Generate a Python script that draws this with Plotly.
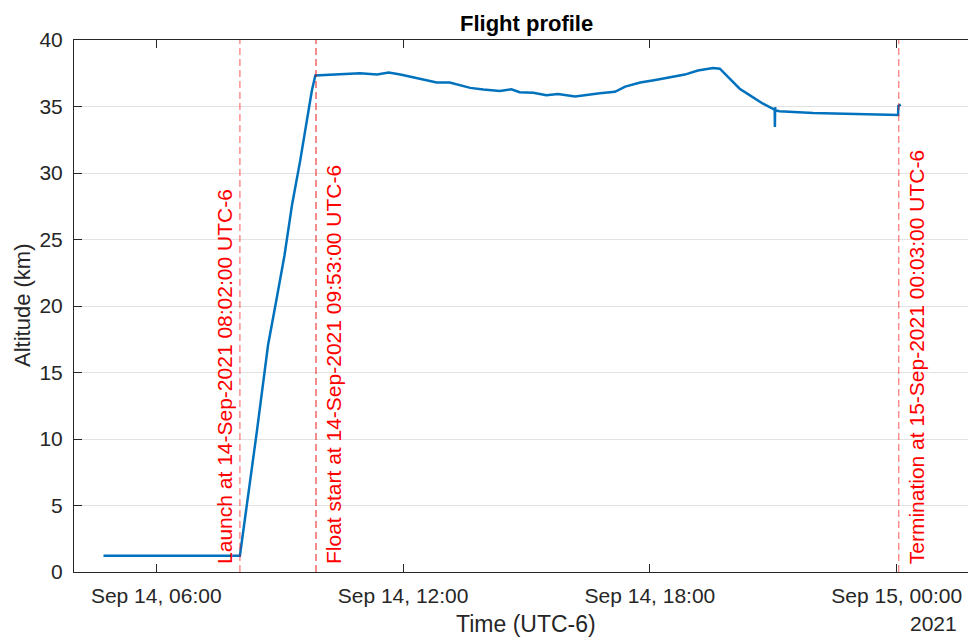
import plotly.graph_objects as go

# ---- data ----
times = [
    "2021-09-14 04:43", "2021-09-14 08:02", "2021-09-14 08:27", "2021-09-14 08:43",
    "2021-09-14 08:55", "2021-09-14 09:07", "2021-09-14 09:18", "2021-09-14 09:30",
    "2021-09-14 09:45", "2021-09-14 09:47", "2021-09-14 09:52", "2021-09-14 10:18",
    "2021-09-14 10:57", "2021-09-14 11:22", "2021-09-14 11:39", "2021-09-14 11:56",
    "2021-09-14 12:15", "2021-09-14 12:35", "2021-09-14 12:49", "2021-09-14 13:08",
    "2021-09-14 13:23", "2021-09-14 13:38", "2021-09-14 13:57", "2021-09-14 14:21",
    "2021-09-14 14:38", "2021-09-14 14:50", "2021-09-14 15:10", "2021-09-14 15:29",
    "2021-09-14 15:46", "2021-09-14 16:11", "2021-09-14 16:47", "2021-09-14 17:09",
    "2021-09-14 17:24", "2021-09-14 17:46", "2021-09-14 18:08", "2021-09-14 18:29",
    "2021-09-14 18:51", "2021-09-14 19:10", "2021-09-14 19:32", "2021-09-14 19:42",
    "2021-09-14 19:57", "2021-09-14 20:11", "2021-09-14 20:26", "2021-09-14 20:45",
    "2021-09-14 21:02:00", "2021-09-14 21:02:20", "2021-09-14 21:02:40", "2021-09-14 21:03:10",
    "2021-09-14 21:09", "2021-09-14 21:58", "2021-09-14 22:47", "2021-09-14 23:58",
    "2021-09-15 00:02:00", "2021-09-15 00:02:30", "2021-09-15 00:06",
]
altitude_km = [
    1.22, 1.22, 10.67, 17.05,
    20.4, 23.8, 27.6, 30.95,
    35.6, 36.2, 37.34, 37.40,
    37.50, 37.40, 37.56, 37.40,
    37.20, 37.00, 36.80, 36.80,
    36.60, 36.40, 36.27, 36.16,
    36.29, 36.08, 36.04, 35.84,
    35.94, 35.75, 36.00, 36.10,
    36.50, 36.80, 37.00, 37.20,
    37.40, 37.70, 37.90, 37.84,
    37.09, 36.34, 35.84, 35.21,
    34.76, 33.46, 34.95, 34.70,
    34.64, 34.51, 34.43, 34.36,
    34.36, 35.05, 35.14,
]

event_times = ["2021-09-14 08:02:00", "2021-09-14 09:53:00", "2021-09-15 00:03:00"]
event_labels = [
    "Launch at 14-Sep-2021 08:02:00 UTC-6",
    "Float start at 14-Sep-2021 09:53:00 UTC-6",
    "Termination at 15-Sep-2021 00:03:00 UTC-6",
]
event_side = ["right", "left", "left"]
event_colors = ["rgba(255,0,0,0.55)", "rgba(230,0,0,0.75)", "rgba(255,0,0,0.55)"]

tick_vals = ["2021-09-14 06:00", "2021-09-14 12:00", "2021-09-14 18:00", "2021-09-15 00:00"]
tick_text = ["Sep 14, 06:00", "Sep 14, 12:00", "Sep 14, 18:00", "Sep 15, 00:00"]
x_range = ["2021-09-14 04:00", "2021-09-15 01:44"]
y_range = [0, 40]

FONT = "Liberation Sans, Arial, Helvetica, sans-serif"
AXC = "#262626"

fig = go.Figure()
fig.add_trace(go.Scatter(
    x=times, y=altitude_km, mode="lines",
    line=dict(color="#0072BD", width=2.5),
    showlegend=False,
))

for t, lab, side, col in zip(event_times, event_labels, event_side, event_colors):
    fig.add_shape(type="line", xref="x", yref="y", x0=t, x1=t, y0=y_range[0], y1=y_range[1],
                  line=dict(color=col, width=1.2, dash="7px,4px"), layer="above")
    fig.add_annotation(
        x=t, y=0.45, xref="x", yref="y", text=lab, showarrow=False,
        textangle=-90, xanchor=side, yanchor="bottom",
        xshift=(-2 if side == "right" else 4),
        font=dict(family=FONT, size=21, color="#FF0000"),
    )

# title
fig.add_annotation(x=0.5056, y=1, xref="paper", yref="paper", yshift=17,
                   text="<b>Flight profile</b>", showarrow=False,
                   xanchor="center", yanchor="middle",
                   font=dict(family=FONT, size=22, color="#000000"))
# x title
fig.add_annotation(x=0.5056, y=0, xref="paper", yref="paper", yshift=-52,
                   text="Time (UTC-6)", showarrow=False,
                   xanchor="center", yanchor="middle",
                   font=dict(family=FONT, size=23, color=AXC))
# year
fig.add_annotation(x=0.9899, y=0, xref="paper", yref="paper", yshift=-51,
                   text="2021", showarrow=False,
                   xanchor="right", yanchor="middle",
                   font=dict(family=FONT, size=21, color=AXC))
# y title
fig.add_annotation(x=0, y=0.5, xref="paper", yref="paper", xshift=-52,
                   text="Altitude (km)", showarrow=False, textangle=-90,
                   xanchor="center", yanchor="middle",
                   font=dict(family=FONT, size=22, color=AXC))

fig.update_layout(
    width=968, height=637,
    margin=dict(l=74, r=0, t=40, b=65),
    plot_bgcolor="white", paper_bgcolor="white",
    font=dict(family=FONT, size=21, color=AXC),
    xaxis=dict(
        type="date", range=x_range, tickvals=tick_vals, ticktext=tick_text,
        ticks="inside", ticklen=8, tickcolor=AXC, tickwidth=1,
        showline=True, linecolor=AXC, linewidth=1, mirror="ticks",
        showgrid=False, zeroline=False,
        tickfont=dict(family=FONT, size=21, color=AXC),
        ticklabelstandoff=5,
    ),
    yaxis=dict(
        range=y_range, dtick=5, tick0=0,
        ticks="inside", ticklen=8, tickcolor=AXC, tickwidth=1,
        showline=True, linecolor=AXC, linewidth=1, mirror=False,
        showgrid=True, gridcolor="#E2E2E2", gridwidth=1, zeroline=False,
        tickfont=dict(family=FONT, size=21, color=AXC),
        ticklabelstandoff=6,
    ),
)

fig.write_html("out.html")
